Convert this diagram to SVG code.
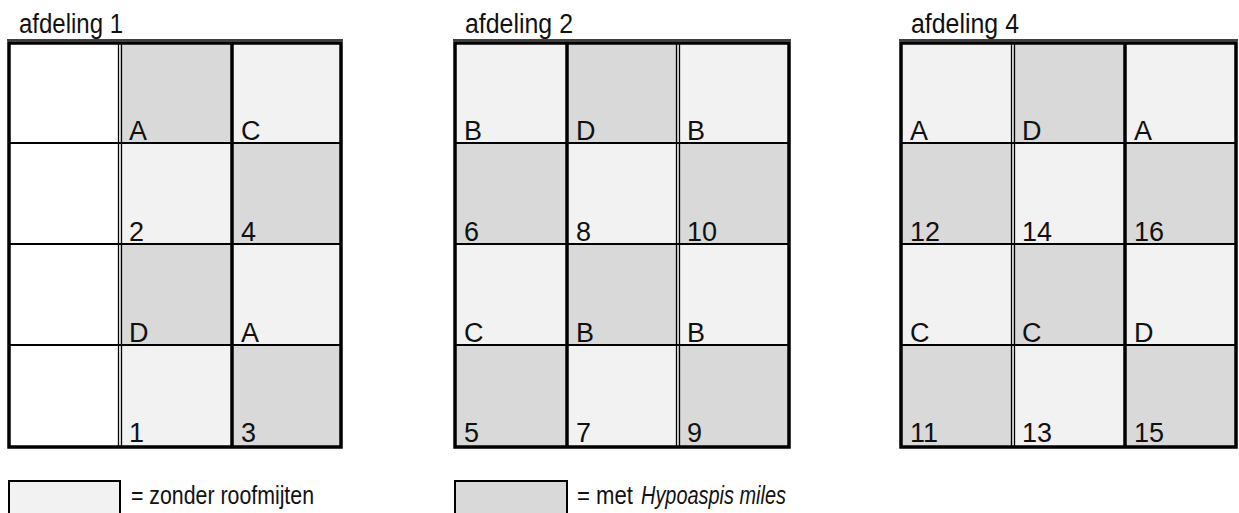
<svg xmlns="http://www.w3.org/2000/svg" width="1239" height="513" viewBox="0 0 1239 513">
<style>
text{font-family:"Liberation Sans",sans-serif;font-size:27px;fill:#111;}
.t{font-size:27px;}
.g{font-size:26px;}
.l{fill:#f2f2f2;}
.d{fill:#d9d9d9;}
.w{fill:#ffffff;}
.thin{stroke:#000;stroke-width:1.3;fill:none;}
.row{stroke:#000;stroke-width:2;}
.thick{stroke:#000;stroke-width:3.5;}
.dbl{stroke:#000;stroke-width:1.3;}
</style>
<rect width="1239" height="513" fill="#fff"/>

<g id="afdeling1">
<text class="t" x="19" y="33" textLength="104" lengthAdjust="spacingAndGlyphs">afdeling 1</text>
<rect class="w" x="9" y="43" width="111" height="404"/>
<rect class="d" x="120" y="43" width="112" height="100"/>
<rect class="l" x="232" y="43" width="109" height="100"/>
<rect class="l" x="120" y="143" width="112" height="101"/>
<rect class="d" x="232" y="143" width="109" height="101"/>
<rect class="d" x="120" y="244" width="112" height="101"/>
<rect class="l" x="232" y="244" width="109" height="101"/>
<rect class="l" x="120" y="345" width="112" height="102"/>
<rect class="d" x="232" y="345" width="109" height="102"/>
<line class="row" x1="9" y1="143" x2="341" y2="143"/>
<line class="row" x1="9" y1="244" x2="341" y2="244"/>
<line class="row" x1="9" y1="345" x2="341" y2="345"/>
<line class="dbl" x1="118.5" y1="43" x2="118.5" y2="447"/>
<line class="dbl" x1="121.5" y1="43" x2="121.5" y2="447"/>
<line class="thick" x1="232" y1="43" x2="232" y2="447"/>
<line class="thin" x1="7" y1="40" x2="343" y2="40"/>
<rect x="9" y="43" width="332" height="404" fill="none" stroke="#000" stroke-width="3.5"/>
<text x="129" y="140">A</text><text x="241" y="140">C</text>
<text x="129" y="241">2</text><text x="241" y="241">4</text>
<text x="129" y="342">D</text><text x="241" y="342">A</text>
<text x="129" y="442">1</text><text x="241" y="442">3</text>
</g>

<g id="afdeling2">
<text class="t" x="465" y="33" textLength="108" lengthAdjust="spacingAndGlyphs">afdeling 2</text>
<rect class="l" x="455" y="43" width="112" height="100"/>
<rect class="d" x="567" y="43" width="111" height="100"/>
<rect class="l" x="678" y="43" width="111" height="100"/>
<rect class="d" x="455" y="143" width="112" height="101"/>
<rect class="l" x="567" y="143" width="111" height="101"/>
<rect class="d" x="678" y="143" width="111" height="101"/>
<rect class="l" x="455" y="244" width="112" height="101"/>
<rect class="d" x="567" y="244" width="111" height="101"/>
<rect class="l" x="678" y="244" width="111" height="101"/>
<rect class="d" x="455" y="345" width="112" height="102"/>
<rect class="l" x="567" y="345" width="111" height="102"/>
<rect class="d" x="678" y="345" width="111" height="102"/>
<line class="row" x1="455" y1="143" x2="789" y2="143"/>
<line class="row" x1="455" y1="244" x2="789" y2="244"/>
<line class="row" x1="455" y1="345" x2="789" y2="345"/>
<line class="thick" x1="567" y1="43" x2="567" y2="447"/>
<line class="dbl" x1="676.5" y1="43" x2="676.5" y2="447"/>
<line class="dbl" x1="679.5" y1="43" x2="679.5" y2="447"/>
<line class="thin" x1="453" y1="40" x2="791" y2="40"/>
<rect x="455" y="43" width="334" height="404" fill="none" stroke="#000" stroke-width="3.5"/>
<text x="464" y="140">B</text><text x="576" y="140">D</text><text x="687" y="140">B</text>
<text x="464" y="241">6</text><text x="576" y="241">8</text><text x="687" y="241">10</text>
<text x="464" y="342">C</text><text x="576" y="342">B</text><text x="687" y="342">B</text>
<text x="464" y="442">5</text><text x="576" y="442">7</text><text x="687" y="442">9</text>
</g>

<g id="afdeling4">
<text class="t" x="911" y="33" textLength="108" lengthAdjust="spacingAndGlyphs">afdeling 4</text>
<rect class="l" x="901" y="43" width="112" height="100"/>
<rect class="d" x="1013" y="43" width="112" height="100"/>
<rect class="l" x="1125" y="43" width="111" height="100"/>
<rect class="d" x="901" y="143" width="112" height="101"/>
<rect class="l" x="1013" y="143" width="112" height="101"/>
<rect class="d" x="1125" y="143" width="111" height="101"/>
<rect class="l" x="901" y="244" width="112" height="101"/>
<rect class="d" x="1013" y="244" width="112" height="101"/>
<rect class="l" x="1125" y="244" width="111" height="101"/>
<rect class="d" x="901" y="345" width="112" height="102"/>
<rect class="l" x="1013" y="345" width="112" height="102"/>
<rect class="d" x="1125" y="345" width="111" height="102"/>
<line class="row" x1="901" y1="143" x2="1236" y2="143"/>
<line class="row" x1="901" y1="244" x2="1236" y2="244"/>
<line class="row" x1="901" y1="345" x2="1236" y2="345"/>
<line class="dbl" x1="1011.5" y1="43" x2="1011.5" y2="447"/>
<line class="dbl" x1="1014.5" y1="43" x2="1014.5" y2="447"/>
<line class="thick" x1="1125" y1="43" x2="1125" y2="447"/>
<line class="thin" x1="899" y1="40" x2="1238" y2="40"/>
<rect x="901" y="43" width="335" height="404" fill="none" stroke="#000" stroke-width="3.5"/>
<text x="910" y="140">A</text><text x="1022" y="140">D</text><text x="1134" y="140">A</text>
<text x="910" y="241">12</text><text x="1022" y="241">14</text><text x="1134" y="241">16</text>
<text x="910" y="342">C</text><text x="1022" y="342">C</text><text x="1134" y="342">D</text>
<text x="910" y="442">11</text><text x="1022" y="442">13</text><text x="1134" y="442">15</text>
</g>

<g id="legend">
<rect class="l" x="9" y="481" width="111" height="40" stroke="#000" stroke-width="2"/>
<text class="g" x="131" y="504" textLength="183" lengthAdjust="spacingAndGlyphs">= zonder roofmijten</text>
<rect class="d" x="455" y="481" width="112" height="40" stroke="#000" stroke-width="2"/>
<text class="g" x="577" y="504" textLength="56" lengthAdjust="spacingAndGlyphs">= met</text>
<text class="g" x="641" y="504" font-style="italic" textLength="145" lengthAdjust="spacingAndGlyphs">Hypoaspis miles</text>
</g>
</svg>
